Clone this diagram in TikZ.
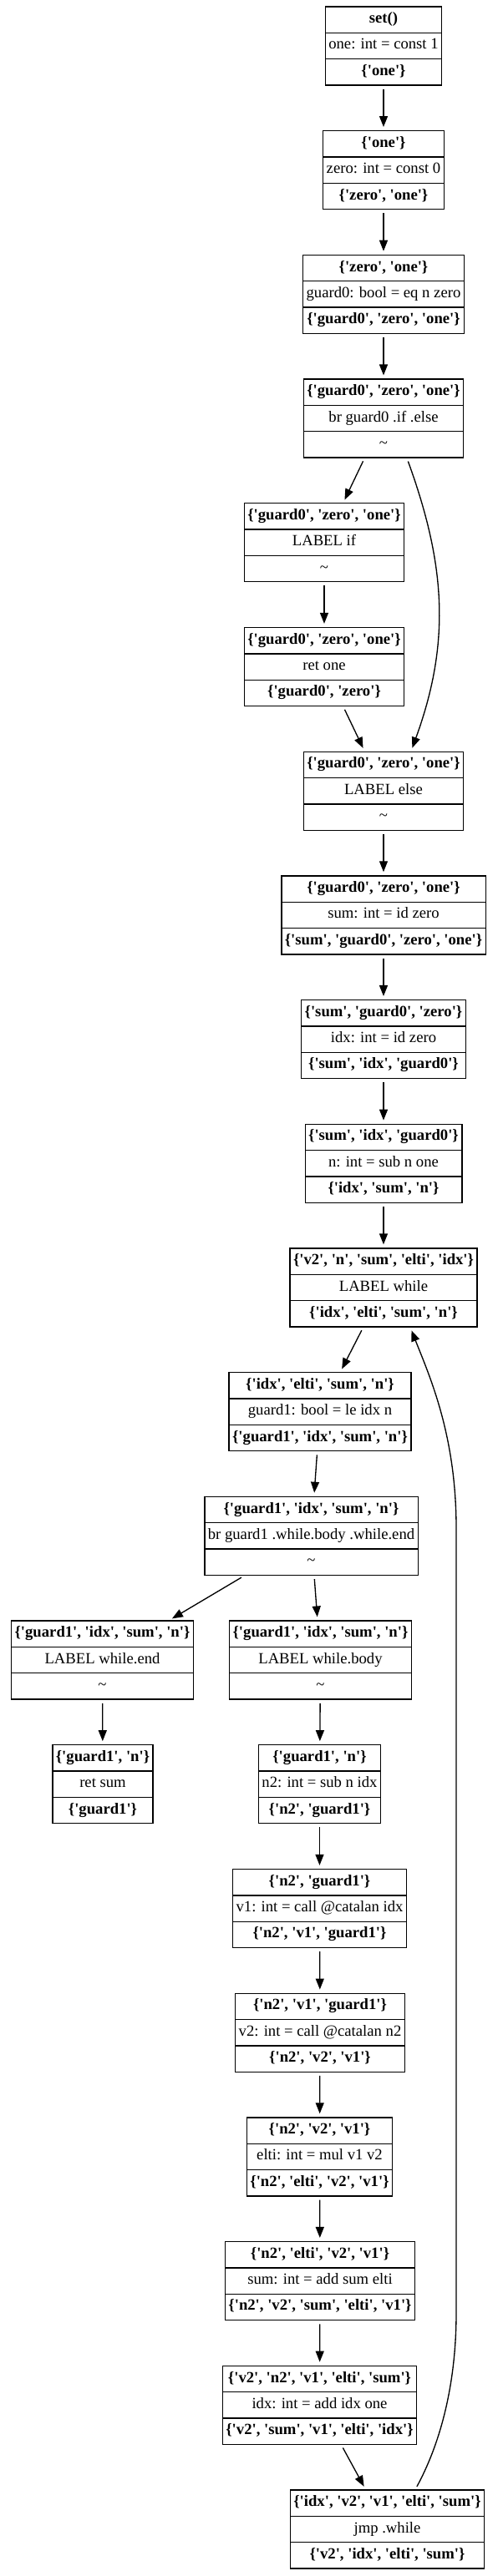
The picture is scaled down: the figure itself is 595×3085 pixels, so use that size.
\documentclass[tikz,border=0pt]{standalone}
\usepackage{fontspec}
\setmainfont{Liberation Serif}[Ligatures=TeXOff]
\usetikzlibrary{shapes.multipart, arrows.meta}
\newcommand{\rs}{\rule[-6pt]{0pt}{20pt}}
\newcommand{\slot}[1]{\nodepart{#1}\rs}
\tikzset{
    block/.style={rectangle split, rectangle split parts=3, draw,
    	line width=1.33pt, inner xsep=4pt, inner ysep=5pt,
    	execute at begin node=\rs},
    every text node part/.style={font=\bfseries},
    every three node part/.style={font=\bfseries}
}
\tikzset{
    link/.style={line width=1.33pt, -{Triangle[length=13pt,width=10pt]},
    	shorten <=4pt, shorten >=4pt},
    every edge/.append style={link}
}

\begin{document}
\fontsize{18.67pt}{22pt}\selectfont
\begin{tikzpicture}[x=1pt, y=-1pt]
  \useasboundingbox (0,0) rectangle (595,3085);

  \node (set) [block, minimum width=138] at (459,55)
    {set()\slot{two}one: int = const 1\slot{three}\{'one'\}};
  \node (one) [block, minimum width=142] at (459,203.7)
    {\{'one'\}\slot{two}zero: int = const 0\slot{three}\{'zero', 'one'\}};
  \node (zero) [block, minimum width=188] at (459,352.4)
    {\{'zero', 'one'\}\slot{two}guard0: bool = eq n zero\slot{three}\{'guard0', 'zero', 'one'\}};
  \node (brif) [block, minimum width=188] at (459,501.1)
    {\{'guard0', 'zero', 'one'\}\slot{two}br guard0 .if .else\slot{three}\mdseries\textasciitilde};
  \node (lif) [block, minimum width=188] at (388,649.8)
    {\{'guard0', 'zero', 'one'\}\slot{two}LABEL if\slot{three}\mdseries\textasciitilde};
  \node (retone) [block, minimum width=188] at (388,798.5)
    {\{'guard0', 'zero', 'one'\}\slot{two}ret one\slot{three}\{'guard0', 'zero'\}};
  \node (lelse) [block, minimum width=188] at (459,947.2)
    {\{'guard0', 'zero', 'one'\}\slot{two}LABEL else\slot{three}\mdseries\textasciitilde};
  \node (sum) [block, minimum width=240] at (459,1095.9)
    {\{'guard0', 'zero', 'one'\}\slot{two}sum: int = id zero\slot{three}\{'sum', 'guard0', 'zero', 'one'\}};
  \node (idx) [block, minimum width=194] at (459,1244.6)
    {\{'sum', 'guard0', 'zero'\}\slot{two}idx: int = id zero\slot{three}\{'sum', 'idx', 'guard0'\}};
  \node (n) [block, minimum width=184] at (459,1393.3)
    {\{'sum', 'idx', 'guard0'\}\slot{two}n: int = sub n one\slot{three}\{'idx', 'sum', 'n'\}};
  \node (lwhile) [block, minimum width=218] at (459,1542)
    {\{'v2', 'n', 'sum', 'elti', 'idx'\}\slot{two}LABEL while\slot{three}\{'idx', 'elti', 'sum', 'n'\}};
  \node (guard1) [block, minimum width=212] at (383,1690.7)
    {\{'idx', 'elti', 'sum', 'n'\}\slot{two}guard1: bool = le idx n\slot{three}\{'guard1', 'idx', 'sum', 'n'\}};
  \node (brwhile) [block, minimum width=249] at (372.5,1839.4)
    {\{'guard1', 'idx', 'sum', 'n'\}\slot{two}br guard1 .while.body .while.end\slot{three}\mdseries\textasciitilde};
  \node (lend) [block, minimum width=215] at (122.5,1988.1)
    {\{'guard1', 'idx', 'sum', 'n'\}\slot{two}LABEL while.end\slot{three}\mdseries\textasciitilde};
  \node (lbody) [block, minimum width=217] at (383.5,1988.1)
    {\{'guard1', 'idx', 'sum', 'n'\}\slot{two}LABEL while.body\slot{three}\mdseries\textasciitilde};
  \node (retsum) [block, minimum width=118] at (123,2136.8)
    {\{'guard1', 'n'\}\slot{two}ret sum\slot{three}\{'guard1'\}};
  \node (ntwo) [block, minimum width=143] at (382.5,2136.8)
    {\{'guard1', 'n'\}\slot{two}n2: int = sub n idx\slot{three}\{'n2', 'guard1'\}};
  \node (vone) [block, minimum width=203] at (382.5,2285.5)
    {\{'n2', 'guard1'\}\slot{two}v1: int = call @catalan idx\slot{three}\{'n2', 'v1', 'guard1'\}};
  \node (vtwo) [block, minimum width=198] at (383,2434.2)
    {\{'n2', 'v1', 'guard1'\}\slot{two}v2: int = call @catalan n2\slot{three}\{'n2', 'v2', 'v1'\}};
  \node (elti) [block, minimum width=171] at (382.5,2582.9)
    {\{'n2', 'v2', 'v1'\}\slot{two}elti: int = mul v1 v2\slot{three}\{'n2', 'elti', 'v2', 'v1'\}};
  \node (sumadd) [block, minimum width=224] at (383,2731.6)
    {\{'n2', 'elti', 'v2', 'v1'\}\slot{two}sum: int = add sum elti\slot{three}\{'n2', 'v2', 'sum', 'elti', 'v1'\}};
  \node (idxadd) [block, minimum width=229] at (382.5,2880.3)
    {\{'v2', 'n2', 'v1', 'elti', 'sum'\}\slot{two}idx: int = add idx one\slot{three}\{'v2', 'sum', 'v1', 'elti', 'idx'\}};
  \node (jmp) [block, minimum width=229] at (463.5,3029)
    {\{'idx', 'v2', 'v1', 'elti', 'sum'\}\slot{two}jmp .while\slot{three}\{'v2', 'idx', 'elti', 'sum'\}};

  \draw (set) edge (one);
  \draw (one) edge (zero);
  \draw (zero) edge (brif);
  \draw (brif) edge (lif);
  \draw ([xshift=28pt]brif.south) edge [out=-70, in=70] ([xshift=33pt]lelse.north);
  \draw (lif) edge (retone);
  \draw (retone) edge (lelse);
  \draw (lelse) edge (sum);
  \draw (sum) edge (idx);
  \draw (idx) edge (n);
  \draw (n) edge (lwhile);
  \draw (lwhile) edge (guard1);
  \draw (guard1) edge (brwhile);
  \draw (brwhile) edge (lend);
  \draw (brwhile) edge (lbody);
  \draw (lend) edge (retsum);
  \draw (lbody) edge (ntwo);
  \draw (ntwo) edge (vone);
  \draw (vone) edge (vtwo);
  \draw (vtwo) edge (elti);
  \draw (elti) edge (sumadd);
  \draw (sumadd) edge (idxadd);
  \draw (idxadd) edge (jmp);
  \draw [link] ([xshift=33.5pt]jmp.north) .. controls (525,2930) and (546,2860) .. (546,2770)
    -- (546,1830) .. controls (546,1720) and (515,1650) .. ([xshift=32pt]lwhile.south);
\end{tikzpicture}
\end{document}
